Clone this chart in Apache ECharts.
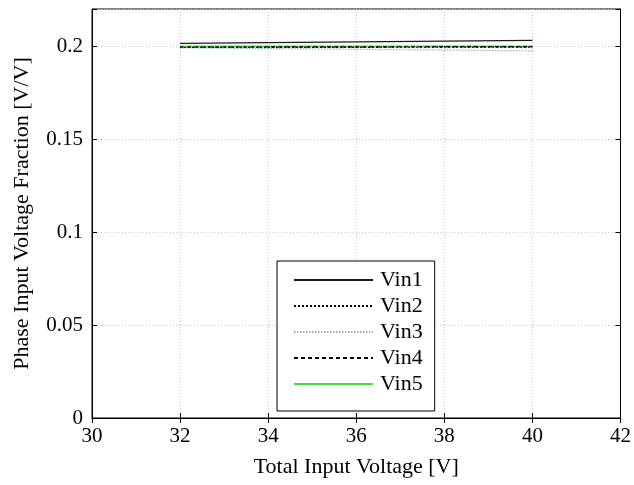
<!DOCTYPE html>
<html>
<head>
<meta charset="utf-8">
<script src="https://cdn.jsdelivr.net/npm/echarts@6/dist/echarts.min.js"></script>
<style>
html,body{margin:0;padding:0;background:#fff;}
#chart{width:634px;height:485px;}
</style>
</head>
<body>
<div id="chart"></div>
<script>
// Total input voltage sweep (V)
const voltages = [32, 40];
// Phase input voltage fractions per phase
const vin1 = [0.2015, 0.2031];
const vin2 = [0.1993, 0.1995];
const vin3 = [0.1991, 0.1975];
const vin4 = [0.1995, 0.1998];
const vin5 = [0.1998, 0.1998];
const seriesNames = ['Vin1', 'Vin2', 'Vin3', 'Vin4', 'Vin5'];
const seriesData = [vin1, vin2, vin3, vin4, vin5];

const styles = [
  { color: '#1a1a1a', width: 1.4, type: 'solid' },
  { color: '#000000', width: 1.2, type: [2, 2] },
  { color: '#aaaaaa', width: 1.2, type: [1.5, 1.5] },
  { color: '#000000', width: 1.2, type: [4, 3] },
  { color: '#44dd44', width: 2, type: 'solid' }
];

const font = 'Liberation Serif, Times New Roman, serif';

const chart = echarts.init(document.getElementById('chart'));
const gridLine = { show: true, lineStyle: { color: '#c8c8c8', type: [1, 2], width: 1 } };

chart.setOption({
  animation: false,
  backgroundColor: '#fff',
  textStyle: { fontFamily: font },
  grid: { left: 92, right: 12, top: 9, bottom: 67, show: true, borderColor: '#000', borderWidth: 1 },
  legend: {
    orient: 'vertical',
    left: 277,
    top: 261,
    backgroundColor: '#fff',
    borderColor: '#000',
    borderWidth: 1,
    borderRadius: 0,
    padding: [8, 12, 16, 16],
    itemWidth: 79,
    itemHeight: 14,
    itemGap: 4,
    itemStyle: { opacity: 0 },
    textStyle: { fontFamily: font, fontSize: 22, lineHeight: 22, color: '#000', padding: [0, 0, 0, 2] },
    data: seriesNames
  },
  xAxis: [{
    type: 'value', min: 30, max: 42, interval: 2,
    name: 'Total Input Voltage [V]', nameLocation: 'middle', nameGap: 38,
    nameTextStyle: { fontFamily: font, fontSize: 22, color: '#000' },
    axisLine: { lineStyle: { color: '#000' } },
    axisTick: { inside: true, length: 5, lineStyle: { color: '#000' } },
    axisLabel: { fontFamily: font, fontSize: 21, color: '#000', margin: 8 },
    splitLine: gridLine
  }, {
    type: 'value', min: 30, max: 42, interval: 2, position: 'top',
    axisLine: { lineStyle: { color: '#000' } },
    axisTick: { inside: true, length: 5, lineStyle: { color: '#000' } },
    axisLabel: { show: false }, splitLine: { show: false }
  }],
  yAxis: [{
    type: 'value', min: 0, max: 0.22, interval: 0.05,
    name: 'Phase Input Voltage Fraction [V/V]', nameLocation: 'middle', nameGap: 59,
    nameTextStyle: { fontFamily: font, fontSize: 22, color: '#000' },
    axisLine: { show: true, lineStyle: { color: '#000' } },
    axisTick: { inside: true, length: 5, lineStyle: { color: '#000' } },
    axisLabel: {
      fontFamily: font, fontSize: 21, color: '#000', margin: 9,
      formatter: v => (Math.abs(v / 0.05 - Math.round(v / 0.05)) < 1e-6 ? String(+v.toFixed(2)) : '')
    },
    splitLine: gridLine
  }, {
    type: 'value', min: 0, max: 0.22, interval: 0.05, position: 'right',
    axisLine: { show: true, lineStyle: { color: '#000' } },
    axisTick: { inside: true, length: 5, lineStyle: { color: '#000' } },
    axisLabel: { show: false }, splitLine: { show: false }
  }],
  series: seriesNames.map((n, i) => ({
    name: n,
    type: 'line',
    symbol: 'none',
    data: voltages.map((x, j) => [x, seriesData[i][j]]),
    itemStyle: { color: styles[i].color },
    lineStyle: { color: styles[i].color, width: styles[i].width, type: styles[i].type },
    z: 10 - i
  }))
});
</script>
</body>
</html>
